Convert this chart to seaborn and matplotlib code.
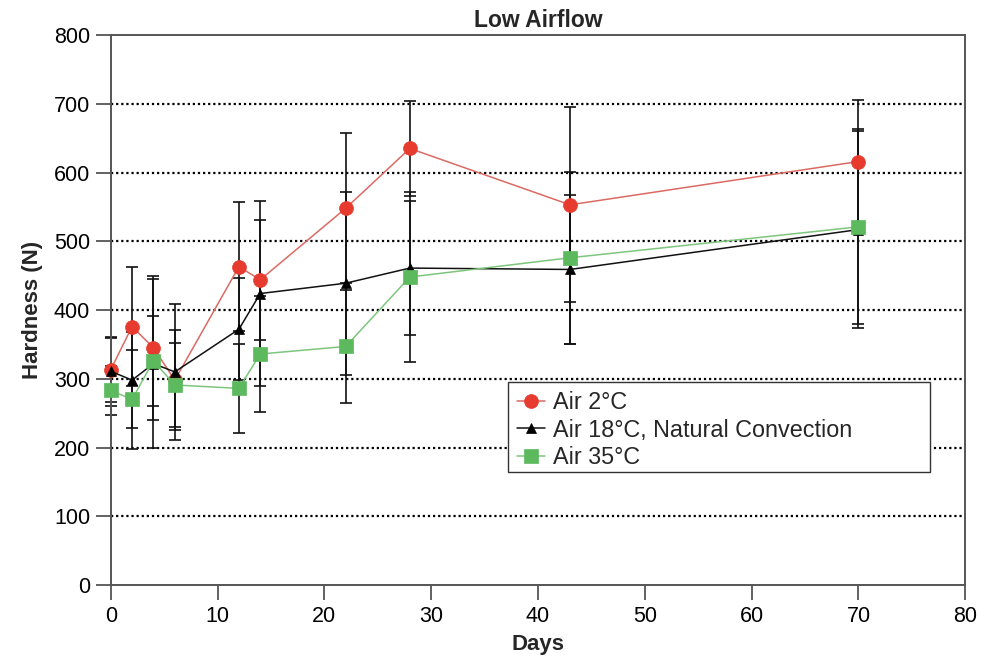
import matplotlib
matplotlib.use("Agg")
import matplotlib.pyplot as plt
from matplotlib import font_manager
from matplotlib.patches import Rectangle
import seaborn as sns
import pandas as pd

# ---------------- data ----------------
days = [0, 2, 4, 6, 12, 14, 22, 28, 43, 70]
air2_mean = [313, 376, 345, 298, 463, 444, 548, 635, 553, 616]
air2_sd = [47, 87, 105, 73, 94, 87, 109, 69, 142, 89]
air18_mean = [311, 298, 322, 310, 372, 424, 439, 461, 459, 517]
air18_sd = [50, 70, 123, 99, 74, 134, 133, 97, 108, 143]
air35_mean = [283, 270, 326, 291, 286, 336, 347, 448, 476, 521]
air35_sd = [35, 72, 65, 61, 65, 84, 82, 124, 125, 142]
series_names = ["Air 2°C", "Air 18°C, Natural Convection", "Air 35°C"]
x_ticks = [0, 10, 20, 30, 40, 50, 60, 70, 80]
y_ticks = [0, 100, 200, 300, 400, 500, 600, 700, 800]
title = "Low Airflow"
xlabel = "Days"
ylabel = "Hardness (N)"

# ---------------- style ----------------
sns.set_style("ticks")
avail = {f.name for f in font_manager.fontManager.ttflist}
base = "Liberation Sans" if "Liberation Sans" in avail else "DejaVu Sans"
plt.rcParams["font.family"] = [base, "DejaVu Sans"]

fig = plt.figure(figsize=(9.84, 6.58), dpi=100)
ax = fig.add_axes([0.1125, 0.1109, 0.8685, 0.8359])

spine_col = "#555555"
styles = [
    dict(mean=air2_mean, sd=air2_sd, marker="o", ms=10, mcol="#E63B2E", lcol="#DB6A63"),
    dict(mean=air18_mean, sd=air18_sd, marker="^", ms=7, mcol="#000000", lcol="#111111"),
    dict(mean=air35_mean, sd=air35_sd, marker="s", ms=10, mcol="#5DB95E", lcol="#7DC67D"),
]

# error bars first (behind markers)
for st in styles:
    cont = ax.errorbar(days, st["mean"], yerr=st["sd"], fmt="none", ecolor="#111111",
                       elinewidth=1.2, capsize=4.5, capthick=1.2, zorder=2)
    for art in cont.get_children():
        art.set_clip_on(False)

for i, (name, st) in enumerate(zip(series_names, styles)):
    df = pd.DataFrame({"Days": days, "Hardness": st["mean"]})
    sns.lineplot(data=df, x="Days", y="Hardness", ax=ax, color=st["lcol"],
                 linewidth=1.1, marker=st["marker"], markersize=st["ms"],
                 markerfacecolor=st["mcol"], markeredgecolor=st["mcol"],
                 markeredgewidth=0.5, label=name, zorder=3 + i)
    ax.lines[-1].set_clip_on(False)

ax.set_xlim(0, 80)
ax.set_ylim(0, 800)
ax.set_xticks(x_ticks)
ax.set_yticks(y_ticks)

for y in y_ticks[1:-1]:
    ax.axhline(y, color="black", linestyle=(0, (1, 1.3)), linewidth=1.6, zorder=1)

for s in ax.spines.values():
    s.set_visible(True)
    s.set_color(spine_col)
    s.set_linewidth(1.4)

ax.tick_params(axis="both", direction="out", length=10.8, width=1.3, color=spine_col,
               labelsize=15.5, pad=4, labelcolor="black")

ax.set_title(title, fontsize=16.5, fontweight="bold", pad=6)
ax.set_xlabel(xlabel, fontsize=16, fontweight="bold", labelpad=5)
ax.set_ylabel(ylabel, fontsize=16, fontweight="bold", labelpad=8)

# legend: text/handles from the lines, custom box as in the reference
leg = ax.legend(loc="upper left", bbox_to_anchor=(0.4649, 0.3691), borderaxespad=0,
                fontsize=16.8, frameon=False, handlelength=1.2, handletextpad=0.35,
                labelspacing=0.2, borderpad=0.38)
leg.set_zorder(6)
ax.add_patch(Rectangle((0.4649, 0.2055), 0.9587 - 0.4649, 0.3691 - 0.2055,
                       transform=ax.transAxes, facecolor="white", edgecolor="#333333",
                       linewidth=1.0, zorder=5.5))

fig.savefig("out.png", dpi=100)
